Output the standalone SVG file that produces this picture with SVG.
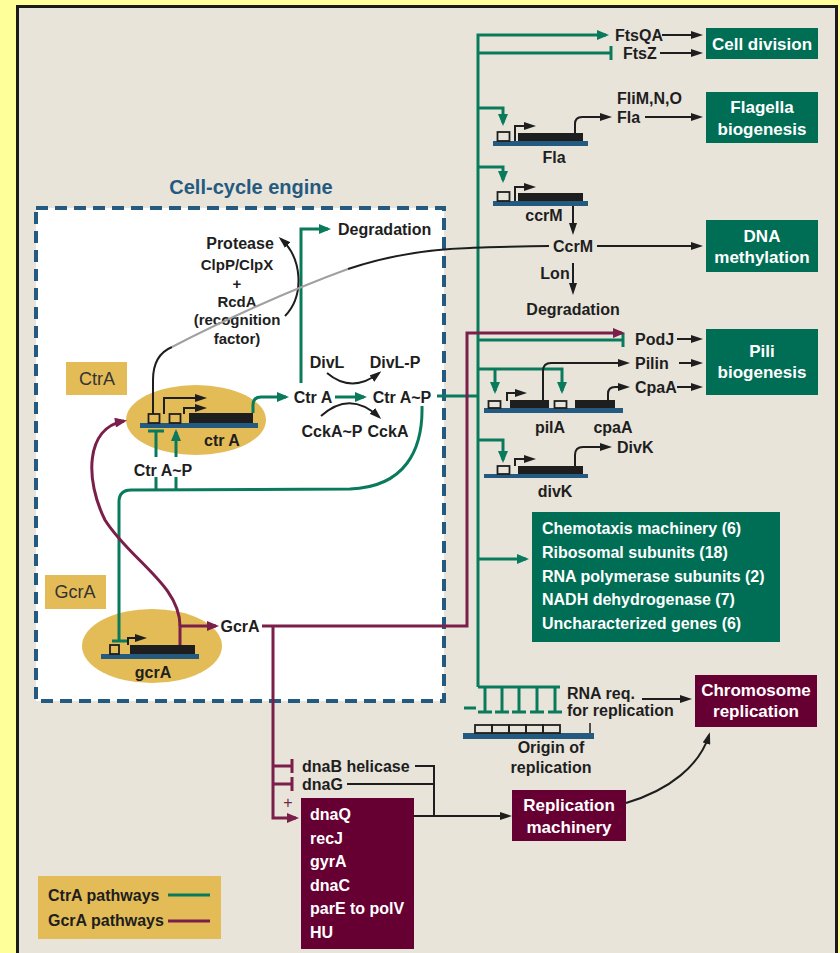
<svg xmlns="http://www.w3.org/2000/svg" width="840" height="953" viewBox="0 0 840 953">
<defs>
<style>
.t{font-family:"Liberation Sans",Arial,sans-serif;font-weight:bold;font-size:16px;fill:#1e1e1e}
.c{text-anchor:middle}
.w{fill:#ffffff;font-size:17px}
.lbl{font-family:"Liberation Sans",Arial,sans-serif;font-size:18px;fill:#333}
.g{fill:none;stroke:#0a7a5c;stroke-width:3}
.p{fill:none;stroke:#7a1e4a;stroke-width:3}
.k{fill:none;stroke:#1e1e1e;stroke-width:2}
.gb{fill:#006e55}
.pb{fill:#660033}
.mus{fill:#e3bc57}
.bar{fill:#255a80}
.blk{fill:#1e1e1e}
.prom{fill:none;stroke:#1e1e1e;stroke-width:1.8}
</style>
<marker id="ag" viewBox="0 0 12 10" refX="9" refY="5" markerWidth="13" markerHeight="10" markerUnits="userSpaceOnUse" orient="auto"><path d="M0,0 L12,5 L0,10 z" fill="#0a7a5c"/></marker>
<marker id="ap" viewBox="0 0 12 10" refX="9" refY="5" markerWidth="13" markerHeight="10" markerUnits="userSpaceOnUse" orient="auto"><path d="M0,0 L12,5 L0,10 z" fill="#7a1e4a"/></marker>
<marker id="ak" viewBox="0 0 12 8" refX="9" refY="4" markerWidth="12" markerHeight="8" markerUnits="userSpaceOnUse" orient="auto"><path d="M0,0 L12,4 L0,8 z" fill="#1e1e1e"/></marker>
</defs>
<rect x="0" y="0" width="840" height="953" fill="#ffff99"/>
<rect x="17.5" y="6.5" width="819" height="960" fill="#e8e4da" stroke="#1a1a1a" stroke-width="3"/>

<g id="engine">
<rect x="36" y="208" width="408" height="493" fill="#ffffff" stroke="#255a80" stroke-width="4" stroke-dasharray="12 7"/>
<text class="t c" x="251" y="194" style="font-size:20px;fill:#255a80">Cell-cycle engine</text>
</g>

<g id="ctrA-node">
<rect class="mus" x="66" y="362" width="61" height="33"/>
<text class="lbl c" x="97" y="385">CtrA</text>
<ellipse class="mus" cx="196" cy="420" rx="70" ry="35"/>
<rect class="bar" x="140" y="423" width="118" height="5"/>
<rect class="prom" x="148.5" y="414" width="11" height="9"/>
<rect class="prom" x="169.5" y="414" width="11" height="9"/>
<rect class="blk" x="189" y="413" width="64" height="10"/>
<path class="k" d="M164,414 V398 H204" marker-end="url(#ak)"/>
<path class="k" d="M184,414 V408 H204" marker-end="url(#ak)"/>
<text class="t c" x="222" y="446">ctr A</text>
</g>

<g id="gcrA-node">
<rect class="mus" x="45" y="575" width="61" height="34"/>
<text class="lbl c" x="75" y="598">GcrA</text>
<ellipse class="mus" cx="152" cy="646" rx="70" ry="37"/>
<rect class="bar" x="101" y="654" width="98" height="5"/>
<rect class="prom" x="110" y="645" width="9" height="9"/>
<rect class="blk" x="130" y="645" width="65" height="9"/>
<path class="k" d="M128,645 V638 H144" marker-end="url(#ak)"/>
<text class="t c" x="153" y="678">gcrA</text>
</g>

<g id="protease">
<text class="t c" x="240" y="249">Protease</text>
<text class="t c" x="237" y="270" style="font-size:15px">ClpP/ClpX</text>
<text class="t c" x="237" y="289" style="font-size:15px">+</text>
<text class="t c" x="237" y="307" style="font-size:15px">RcdA</text>
<text class="t c" x="237" y="325" style="font-size:15px">(recognition</text>
<text class="t c" x="237" y="344" style="font-size:15px">factor)</text>
</g>
<g id="degradation1"><text class="t" x="338" y="235">Degradation</text></g>
<g id="CtrA-prot"><text class="t c" x="313" y="403">Ctr A</text></g>
<g id="CtrAP-prot"><text class="t c" x="402" y="403">Ctr A~P</text></g>
<g id="divl"><text class="t c" x="327" y="368">DivL</text><text class="t c" x="395" y="368">DivL-P</text></g>
<g id="ckca"><text class="t c" x="332" y="437">CckA~P</text><text class="t c" x="388" y="437">CckA</text></g>
<g id="CtrAP-label"><text class="t c" x="163" y="476">Ctr A~P</text></g>
<g id="GcrA-prot"><text class="t c" x="240" y="632">GcrA</text></g>

<g id="celldivision">
<text class="t" x="615" y="41">FtsQA</text>
<text class="t" x="623" y="59">FtsZ</text>
<rect class="gb" x="706" y="28" width="112" height="31"/>
<text class="t c w" x="762" y="50">Cell division</text>
</g>
<g id="fla">
<rect class="bar" x="493" y="141" width="95" height="5"/>
<rect class="prom" x="497.5" y="132" width="12" height="9"/>
<rect class="blk" x="518" y="133" width="65" height="8"/>
<path class="k" d="M515,141 V126 H533" marker-end="url(#ak)"/>
<text class="t c" x="554" y="163">Fla</text>
<text class="t" x="617" y="104">FliM,N,O</text>
<text class="t" x="617" y="123">Fla</text>
<rect class="gb" x="706" y="92" width="112" height="51"/>
<text class="t c w" x="762" y="113">Flagella</text>
<text class="t c w" x="762" y="135">biogenesis</text>
</g>
<g id="ccrm">
<rect class="bar" x="493" y="201" width="95" height="5"/>
<rect class="prom" x="497.5" y="192" width="12" height="9"/>
<rect class="blk" x="518" y="193" width="65" height="8"/>
<path class="k" d="M515,201 V187 H533" marker-end="url(#ak)"/>
<text class="t c" x="544" y="221">ccrM</text>
<text class="t c" x="573" y="252">CcrM</text>
<text class="t c" x="555" y="279">Lon</text>
<text class="t c" x="573" y="315">Degradation</text>
<rect class="gb" x="706" y="220" width="112" height="52"/>
<text class="t c w" x="762" y="242">DNA</text>
<text class="t c w" x="762" y="263">methylation</text>
</g>
<g id="pili">
<text class="t" x="635" y="345">PodJ</text>
<text class="t" x="635" y="369">Pilin</text>
<text class="t" x="635" y="393">CpaA</text>
<rect class="bar" x="484" y="408" width="139" height="5"/>
<rect class="prom" x="488.5" y="401" width="12" height="7"/>
<rect class="blk" x="510" y="400" width="39" height="8"/>
<rect class="prom" x="554.5" y="401" width="12" height="7"/>
<rect class="blk" x="575" y="400" width="40" height="8"/>
<path class="k" d="M507,401 V393 H524" marker-end="url(#ak)"/>
<text class="t c" x="550" y="433">pilA</text>
<text class="t c" x="613" y="433">cpaA</text>
<rect class="gb" x="706" y="329" width="112" height="66"/>
<text class="t c w" x="762" y="357">Pili</text>
<text class="t c w" x="762" y="378">biogenesis</text>
</g>
<g id="divk">
<rect class="bar" x="484" y="474" width="104" height="4"/>
<rect class="prom" x="497.5" y="466" width="12" height="8"/>
<rect class="blk" x="518" y="466" width="65" height="8"/>
<path class="k" d="M515,466 V459 H533" marker-end="url(#ak)"/>
<text class="t" x="617" y="453">DivK</text>
<text class="t c" x="555" y="497">divK</text>
</g>
<g id="genes-box">
<rect class="gb" x="532" y="512" width="248" height="130"/>
<text class="t w" x="542" y="534" style="font-size:16px">Chemotaxis machinery (6)</text>
<text class="t w" x="542" y="558" style="font-size:16px">Ribosomal subunits (18)</text>
<text class="t w" x="542" y="582" style="font-size:16px">RNA polymerase subunits (2)</text>
<text class="t w" x="542" y="605" style="font-size:16px">NADH dehydrogenase (7)</text>
<text class="t w" x="542" y="629" style="font-size:16px">Uncharacterized genes (6)</text>
</g>
<g id="origin">
<rect class="bar" x="463" y="733" width="131" height="6"/>
<rect class="prom" x="475" y="725" width="17" height="8"/>
<rect class="prom" x="492" y="725" width="17" height="8"/>
<rect class="prom" x="509" y="725" width="17" height="8"/>
<rect class="prom" x="526" y="725" width="17" height="8"/>
<rect class="prom" x="543" y="725" width="17" height="8"/>
<path class="k" d="M590,723 V733" style="stroke-width:1.5"/>
<text class="t c" x="551" y="753">Origin of</text>
<text class="t c" x="551" y="773">replication</text>
<text class="t" x="567" y="699">RNA req.</text>
<text class="t" x="567" y="716">for replication</text>
</g>
<g id="chromosome">
<rect class="pb" x="695" y="675" width="122" height="52"/>
<text class="t c w" x="756" y="696">Chromosome</text>
<text class="t c w" x="756" y="717">replication</text>
</g>
<g id="repmachinery">
<rect class="pb" x="512" y="790" width="114" height="51"/>
<text class="t c w" x="569" y="811">Replication</text>
<text class="t c w" x="569" y="833">machinery</text>
</g>
<g id="dna-genes">
<text class="t" x="302" y="772">dnaB helicase</text>
<text class="t" x="302" y="790">dnaG</text>
<rect class="pb" x="301" y="798" width="113" height="151"/>
<text class="t w" x="310" y="820" style="font-size:16px">dnaQ</text>
<text class="t w" x="310" y="844" style="font-size:16px">recJ</text>
<text class="t w" x="310" y="867" style="font-size:16px">gyrA</text>
<text class="t w" x="310" y="891" style="font-size:16px">dnaC</text>
<text class="t w" x="310" y="914" style="font-size:16px">parE to polV</text>
<text class="t w" x="310" y="938" style="font-size:16px">HU</text>
</g>
<g id="legend">
<rect class="mus" x="38" y="876" width="183" height="63"/>
<text class="t" x="48" y="901">CtrA pathways</text>
<text class="t" x="48" y="926">GcrA pathways</text>
<path class="g" d="M168,895 H210"/>
<path class="p" d="M168,921 H210"/>
</g>

<g id="connectors">
<path class="g" d="M478,687 V35 H606" marker-end="url(#ag)"/>
<path class="g" d="M478,687 H560"/>
<path class="g" d="M478,53 H611 M611,46 V60"/>
<path class="g" d="M478,108 H503 V123" marker-end="url(#ag)"/>
<path class="g" d="M478,167 H503 V180" marker-end="url(#ag)"/>
<path class="g" d="M478,340 H623 M623,333 V347"/>
<path class="g" d="M478,369 H562 V391" marker-end="url(#ag)"/>
<path class="g" d="M495,369 V391" marker-end="url(#ag)"/>
<path class="g" d="M437,396 H478"/>
<path class="g" d="M478,440 H503 V460" marker-end="url(#ag)"/>
<path class="g" d="M478,559 H526" marker-end="url(#ag)"/>
<path class="g" d="M485,687 V712 M502,687 V712 M519,687 V712 M537,687 V712 M555,687 V712"/>
<path class="g" d="M478,712 H492 M495,712 H509 M512,712 H526 M530,712 H544 M548,712 H562 M464,708 H476"/>
<path class="g" d="M253,413 V405 Q253,397 261,397 H286" marker-end="url(#ag)"/>
<path class="g" d="M335,397 H364" marker-end="url(#ag)"/>
<path class="g" d="M301,383 V229 H328" marker-end="url(#ag)"/>
<path class="g" d="M422,406 C423,450 405,487 350,489 L131,490 Q119,490 119,502 V641 M112,641 H127"/>
<path class="g" d="M156,490 V477 M176,490 V477"/>
<path class="g" d="M156,457 V432 M148,431 H164"/>
<path class="g" d="M176,457 V432" marker-end="url(#ag)"/>
<path class="p" d="M180,645 V626 H216" marker-end="url(#ap)"/>
<path class="p" d="M180,626 C180,585 130,560 105,520 C85,480 85,428 124,421" marker-end="url(#ap)"/>
<path class="p" d="M262,626 H467 V333 H622" marker-end="url(#ap)"/>
<path class="p" d="M273,626 V818 H296" marker-end="url(#ap)"/>
<path class="p" d="M273,766 H292 M292,759 V773 M273,784 H292 M292,777 V791"/>
<text x="288" y="808" style="font-family:'Liberation Sans',Arial,sans-serif;font-size:16px;fill:#7a1e4a" text-anchor="middle">+</text>
<path class="k" d="M575,133 V124 Q575,117 582,117 H609" marker-end="url(#ak)"/>
<path class="k" d="M645,117 H700" marker-end="url(#ak)"/>
<path class="k" d="M662,35 H700" marker-end="url(#ak)"/>
<path class="k" d="M660,53 H700" marker-end="url(#ak)"/>
<path class="k" d="M573,206 V232" marker-end="url(#ak)"/>
<path class="k" d="M597,246 H700" marker-end="url(#ak)"/>
<path class="k" d="M573,263 V292" marker-end="url(#ak)"/>
<path class="k" d="M677,339 H700" marker-end="url(#ak)"/>
<path class="k" d="M679,363 H700" marker-end="url(#ak)"/>
<path class="k" d="M677,387 H700" marker-end="url(#ak)"/>
<path class="k" d="M543,400 V371 Q543,363 551,363 H627" marker-end="url(#ak)"/>
<path class="k" d="M608,400 V394 Q608,387 615,387 H627" marker-end="url(#ak)"/>
<path class="k" d="M575,466 V455 Q575,447 583,447 H609" marker-end="url(#ak)"/>
<path class="k" d="M642,699 H689" marker-end="url(#ak)"/>
<path class="k" d="M626,803 C670,790 700,765 709,735" marker-end="url(#ak)"/>
<path class="k" d="M415,766 H434 V816 M347,784 H434"/>
<path class="k" d="M414,816 H509" marker-end="url(#ak)"/>
<path class="k" d="M285,316 C305,295 302,258 281,239" marker-end="url(#ak)"/>
<path class="k" d="M327,373 Q352,394 379,373" marker-end="url(#ak)"/>
<path class="k" d="M321,416 Q350,390 379,417" marker-end="url(#ak)"/>
<path class="k" d="M153,414 V380 C153,362 160,352 172,347"/>
<path d="M172,347 C220,322 290,290 348,269" fill="none" stroke="#a0a0a0" stroke-width="2"/>
<path class="k" d="M348,269 C390,255 430,249 470,248 C500,247 520,246 549,246"/>
</g>
</svg>
